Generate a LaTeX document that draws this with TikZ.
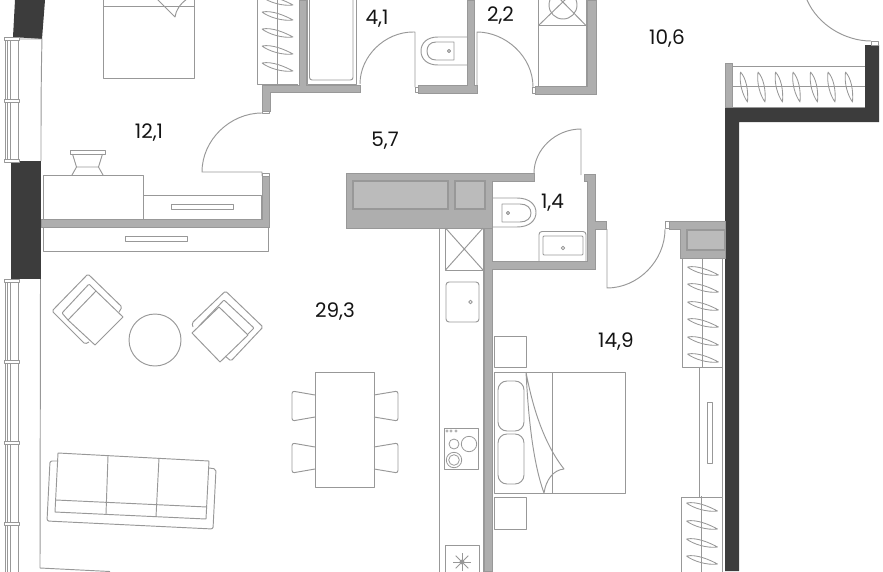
\documentclass[tikz,border=0pt]{standalone}
\usepackage{fontspec}
\setmainfont{Poppins}
\tikzset{
  thin line/.style={draw=linegray,line width=0.95pt,line join=round},
  wallg/.style={fill=wallgray,draw=walledge,line width=0.5pt,line join=miter},
  lightg/.style={fill=lightgray2,draw=walledge,line width=1.1pt},
  area/.style={font=\fontsize{20}{20}\selectfont,text=black!92,inner sep=0pt,anchor=center},
  lens/.pic={\draw[thin line,line width=.85pt] (-15.5,-4) .. controls (-5,-6) and (8,0) .. (15.5,4) .. controls (5,5.5) and (-9,1) .. (-15.5,-4);},
  vlens/.pic={\draw[thin line,line width=.85pt] (-3.5,-15) .. controls (2,-9) and (4.5,3) .. (3.5,15) .. controls (-1.5,8) and (-5,-4) .. (-3.5,-15);}
}
\definecolor{linegray}{HTML}{989898}
\definecolor{wallgray}{HTML}{AEAEAE}
\definecolor{walledge}{HTML}{989898}
\definecolor{wallblack}{HTML}{3C3C3C}
\definecolor{lightgray2}{HTML}{BBBBBB}
\begin{document}
\begin{tikzpicture}[x=1pt,y=-1pt]
\useasboundingbox (0,0) rectangle (883,571);
\clip (0,0) rectangle (883,571);
% black walls
\fill[wallblack] (15,0) -- (45,0) -- (42,39) -- (13,37) -- cycle;
\fill[wallblack] (11,161) rectangle (41,279);
\fill[wallblack] (725,571) -- (725,107) -- (865,107) -- (865,45) -- (879,45) -- (879,122) -- (739,122) -- (739,571) -- cycle;
% windows
\foreach \a/\b in {37/161,279/580}{
  \draw[thin line] (5,\a) -- (5,\b);
  \draw[thin line] (7,\a) -- (7,\b);
  \draw[thin line] (10.5,\a) -- (10.5,\b);
  \draw[thin line] (18.5,\a) -- (18.5,\b);
}
\foreach \y in {37,99,159,279,360,441,522}{
  \draw[thin line,fill=white] (4,\y) rectangle (19,\y+3);
}
\draw[thin line] (19,39) -- (42,39) (42,39) .. controls (41,80) and (41,120) .. (41,161);
\draw[thin line] (40.5,279) -- (40,568) -- (110,571.5);
% grey walls
\path[wallg] (262,85) -- (299,85) -- (299,0) -- (306,0) -- (306,85) -- (360,85) -- (360,92) -- (270,92) -- (270,111) -- (262,111) -- cycle;
\path[wallg] (418,85) -- (467,85) -- (467,0) -- (474,0) -- (474,85) -- (477,85) -- (477,93) -- (418,93) -- cycle;
\path[wallg] (535,86) -- (587,86) -- (587,0) -- (596,0) -- (596,94) -- (535,94) -- cycle;
\path[wallg] (41,219) -- (262,219) -- (262,176) -- (269,176) -- (269,227) -- (41,227) -- cycle;
\path[wallg] (346,173) -- (534,173) -- (534,181) -- (492,181) -- (492,228) -- (346,228) -- cycle;
\path[lightg] (353,181) rectangle (448,209);
\path[lightg] (455,181) rectangle (485,209);
\path[wallg] (484,228) -- (492,228) -- (492,261) -- (587,261) -- (587,181) -- (584,181) -- (584,174) -- (595,174) -- (595,221) -- (606,221) -- (606,229) -- (595,229) -- (595,269) -- (492,269) -- (492,571) -- (484,571) -- cycle;
\path[wallg] (669,221) -- (725,221) -- (725,258) -- (680,258) -- (680,229) -- (669,229) -- cycle;
\path[lightg] (687,230) rectangle (725,250);
\path[wallg] (725,63) rectangle (732,107);
% door stops
\draw[thin line,fill=white] (415,87) rectangle (418,92);
\draw[thin line,fill=white] (532,87) rectangle (535,93);
\draw[thin line,fill=white] (665,221) rectangle (669,228);
\draw[thin line,fill=white] (871,41) rectangle (878,45);
\draw[thin line,fill=white] (262,111) rectangle (269,113);
\draw[thin line,fill=white] (262,173) rectangle (269,176);
% doors
\draw[thin line] (262,113) .. controls (230,113) and (202,140) .. (202,172) -- (262,172) -- (262,176);
\draw[thin line] (360,84) .. controls (360,56) and (385,32) .. (413,32) -- (415,32) -- (415,87);
\draw[thin line] (477,86) -- (477,32) .. controls (505,32) and (533,56) .. (533,87);
\draw[thin line] (534,173) .. controls (534,150) and (555,129) .. (581,129) -- (581,175);
\draw[thin line] (607,229) -- (607,288) .. controls (638,288) and (665,261) .. (665,229);
\draw[thin line] (807,0) .. controls (818,25) and (845,41) .. (871,41);
% bed upper left
\draw[thin line] (103,0) -- (103,78) -- (194,78) -- (194,0);
\draw[thin line] (103,6) -- (194,6);
\draw[thin line] (157,-1) -- (175,17) .. controls (176,10) and (180,4) .. (187,-1);
% wardrobe upper
\draw[thin line] (257.5,-1) -- (257.5,84) -- (298,84);
\draw[thin line] (277,-1) -- (277,84);
\foreach \y in {1,16,33,50,67}{\pic at (277.5,\y) {lens};}
% bath
\draw[thin line] (307,-1) -- (307,84) -- (356,84) -- (356,-1);
\draw[thin line,rounded corners=2.5pt] (309.5,-1) -- (309.5,80) -- (353,80) -- (353,-1);
% toilet 4,1
\draw[thin line] (467,37) -- (438,37) .. controls (427,37) and (421,43) .. (421,51) .. controls (421,59) and (427,65) .. (438,65) -- (467,65);
\draw[thin line] (454,42) -- (436,42) .. controls (430,42) and (427,46) .. (427,51) .. controls (427,56) and (430,60) .. (436,60) -- (454,60) -- cycle;
\draw[thin line] (449,51) circle (1.6);
% ventilation box top
\draw[thin line] (538.5,-1) -- (538.5,86) (586,-1) -- (586,86);
\draw[thin line] (538.5,25.5) -- (586,25.5);
\draw[thin line] (563,5) circle (14);
\draw[thin line] (538.5,25.5) -- (570,-5) (586,25.5) -- (556,-5);
% balcony wardrobe
\draw[thin line] (732,66) -- (865,66) (732,86) -- (865,86) (732,107) -- (865,107);
\foreach \x in {744,761.5,779,796.5,814,831.5,849}{\pic at (\x,87) {vlens};}
% dresser
\draw[thin line] (43,219) -- (43,175) -- (143,175) -- (143,219);
\draw[thin line] (143,195) -- (261,195) -- (261,219);
\draw[thin line] (171,204) rectangle (233,209);
\draw[thin line] (43,227) -- (43,251) -- (268,251) -- (268,227);
\draw[thin line] (125,236) rectangle (187,241);
\draw[thin line] (70,150) rectangle (105,154);
\draw[thin line] (72,175) -- (76.5,167) -- (72.5,154) (103,175) -- (98.5,167) -- (102.5,154) (76.5,167) -- (98.5,167);
% armchairs
\draw[thin line,rounded corners=1.5pt] (89,342) -- (85,344) -- (52,311) -- (88,274) -- (122,307) -- (119,312);
\draw[thin line,rounded corners=1pt] (68,320) -- (62,313) -- (89,284) -- (96,291);
\draw[thin line] (68,320) -- (96,291) -- (123,317) -- (95,345) -- cycle;
\draw[thin line,rounded corners=1.5pt] (193,327) -- (192,323) -- (225.5,291) -- (263,327) -- (231,361) -- (225,356);
\draw[thin line,rounded corners=1pt] (199,326) -- (224,300) -- (254,328) -- (247,335);
\draw[thin line] (192,333) -- (219,307) -- (248,335) -- (220,362) -- cycle;
\draw[thin line] (155,340) circle (26);
% sofa
\draw[thin line] (58,453) -- (209,461) -- (206,519) -- (55,512) -- cycle;
\draw[thin line] (108,456) -- (106,514) (159,458) -- (156,517) (56,500) -- (207,507);
\draw[thin line,rounded corners=2pt] (58,461) -- (50,461) -- (47,521) -- (213,529) -- (216,469) -- (209,468);
% dining
\draw[thin line] (315,372) rectangle (374,487);
\foreach \yt/\yb/\ya/\yc in {395/417/391/421,447/469/443/473}{
 \draw[thin line,rounded corners=2.5pt] (315,\yt) -- (292,\ya) -- (292,\yc) -- (315,\yb);
 \draw[thin line,rounded corners=2.5pt] (374,\yt) -- (398,\ya) -- (398,\yc) -- (374,\yb);
}
% kitchen
\draw[thin line] (439.5,228) -- (439.5,572);
\draw[thin line] (483,228) -- (483,572);
\draw[thin line] (445.5,228) rectangle (483,270);
\draw[thin line] (445.5,228) -- (483,270) (483,228) -- (445.5,270);
\draw[thin line,rounded corners=3pt] (446,282) rectangle (479,322);
\draw[thin line] (470.5,302) circle (1.8);
\draw[thin line,line width=.9pt] (444,428) rectangle (478,469);
\draw[thin line,line width=.8pt] (454,444) circle (5) (469,444) circle (7.7) (454,460) circle (7.7) (454,460) circle (5.3);
\foreach \x in {447,451,456}{\draw[thin line,line width=.6pt] (\x,431) circle (1.2);}
\draw[thin line] (445,572) -- (445,545) -- (479,545) -- (479,572);
\foreach \a in {0,45,90,135}{\draw[thin line,line width=.8pt] (462,562) ++(\a:9) -- ++(\a+180:18);}
\fill[linegray] (462,562) circle (2.4);
% toilet 1,4
\draw[thin line] (493,198) -- (517,198) .. controls (530,198) and (536,205) .. (536,212.5) .. controls (536,220) and (530,227) .. (517,227) -- (493,227);
\draw[thin line] (502,204) -- (520,204) .. controls (527,204) and (531,208) .. (531,213) .. controls (531,218) and (527,222) .. (520,222) -- (502,222) -- cycle;
\draw[thin line] (508,213) circle (1.6);
% sink 1,4
\draw[thin line,rounded corners=3pt] (539,261) -- (539,231.5) -- (586,231.5) -- (586,261);
\draw[thin line,rounded corners=1pt] (543,236) rectangle (583,255);
\draw[thin line] (563,248) circle (1.8);
% bedroom 14,9
\draw[thin line] (494,336) rectangle (526,367);
\draw[thin line] (494,497) rectangle (526,529);
\draw[thin line] (494,372) rectangle (625,493);
\draw[thin line] (552,372) -- (552,493);
\draw[thin line,rounded corners=9pt] (498,381) rectangle (524,431);
\draw[thin line,rounded corners=9pt] (498,434) rectangle (524,484);
\draw[thin line] (526,372) .. controls (533,410) and (545,445) .. (564,469) .. controls (553,470) and (546,480) .. (544,493) .. controls (532,460) and (528,410) .. (526,372);
% wardrobe right
\draw[thin line] (682,258) -- (682,367) -- (722,367) -- (722,258);
\draw[thin line] (702,258) -- (702,367);
\foreach \y in {271,288,306,323,341,358}{\pic at (703,\y) {lens};}
\draw[thin line] (699,367) -- (699,497);
\draw[thin line] (722,367) -- (722,497);
\draw[thin line] (707,402) rectangle (712,463);
\draw[thin line] (681.5,572) -- (681.5,497) -- (722,497) -- (722,572);
\draw[thin line] (701.5,496) -- (701.5,572);
\foreach \y in {507,525,543,560}{\pic at (702,\y) {lens};}
% labels
\node[area] (a1) at (149,132.5) {12,1};
\node[area] (a2) at (377,18.5) {4,1};
\node[area] (a3) at (500.5,16) {2,2};
\node[area] (a4) at (667,38.5) {10,6};
\node[area] (a5) at (385,140.5) {5,7};
\node[area] (a6) at (552.5,202.5) {1,4};
\node[area] (a7) at (335,311.5) {29,3};
\node[area] (a8) at (616,341.5) {14,9};
\end{tikzpicture}
\end{document}
